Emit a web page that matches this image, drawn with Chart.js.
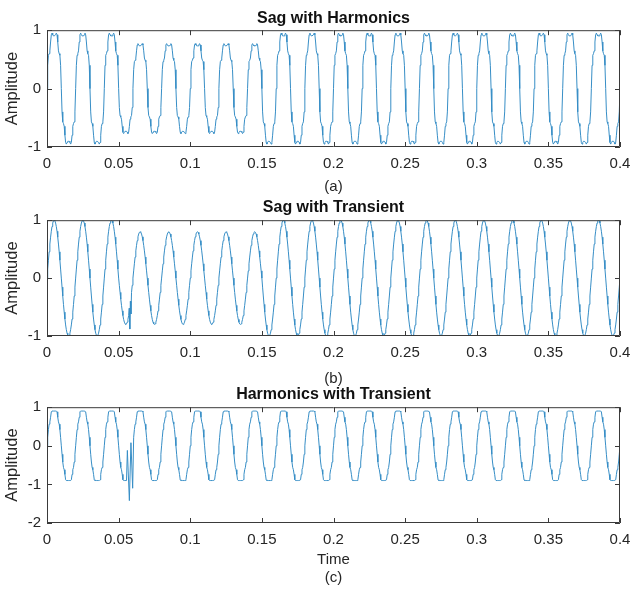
<!DOCTYPE html>
<html>
<head>
<meta charset="utf-8">
<script src="https://cdn.jsdelivr.net/npm/chart.js@4"></script>
<style>
  body { margin: 0; background: #fff; }
  #wrap { position: relative; width: 631px; height: 594px; }
  canvas { position: absolute; left: 0; }
</style>
</head>
<body>
<div id="wrap">
  <canvas id="graficoA" width="631" height="196" style="top:0px"></canvas>
  <canvas id="graficoB" width="631" height="192" style="top:196px"></canvas>
  <canvas id="graficoC" width="631" height="214" style="top:380px"></canvas>
</div>
<script>
// one half cycle (10 ms) of each waveform, sampled every 0.5 ms, peak = 1
const formaA = [0, 0.42, 0.6, 0.63, 0.68, 0.84, 0.97, 1.0, 0.97, 0.95, 0.95, 0.95, 0.97, 1.0, 0.97, 0.84, 0.68, 0.63, 0.6, 0.42];
const formaB = [0, 0.156, 0.309, 0.454, 0.588, 0.707, 0.809, 0.891, 0.951, 0.988, 1, 0.988, 0.951, 0.891, 0.809, 0.707, 0.588, 0.454, 0.309, 0.156];
const formaC = [0, 0.22, 0.42, 0.56, 0.62, 0.74, 0.88, 0.9, 0.9, 0.9, 0.9, 0.9, 0.9, 0.9, 0.88, 0.74, 0.62, 0.56, 0.42, 0.22];

// amplitude of each half cycle (40 half cycles over 0.4 s)
const amplitudeA = [0.95, 0.95, 0.95, 0.95, 0.95, 0.77, 0.77, 0.77, 0.77, 0.77,
                    0.77, 0.77, 0.77, 0.77, 0.77, 0.95, 0.95, 0.95, 0.95, 0.95,
                    0.95, 0.95, 0.95, 0.95, 0.95, 0.95, 0.95, 0.95, 0.95, 0.95,
                    0.95, 0.95, 0.95, 0.95, 0.95, 0.95, 0.95, 0.95, 0.95, 0.95];
const amplitudeB = [1, 1, 1, 1, 1, 0.8, 0.8, 0.8, 0.8, 0.8,
                    0.8, 0.8, 0.8, 0.8, 0.8, 1, 1, 1, 1, 1,
                    1, 1, 1, 1, 1, 1, 1, 1, 1, 1,
                    1, 1, 1, 1, 1, 1, 1, 1, 1, 1];
const amplitudeC = [1, 1, 1, 1, 1, 1, 1, 1, 1, 1,
                    1, 1, 1, 1, 1, 1, 1, 1, 1, 1,
                    1, 1, 1, 1, 1, 1, 1, 1, 1, 1,
                    1, 1, 1, 1, 1, 1, 1, 1, 1, 1];

// transients (time, value)
const transienteBTempo = [0.0574, 0.0578, 0.0582, 0.0586];
const transienteBValor = [-0.52, -0.88, -0.40, -0.62];
const transienteCTempo = [0.0561, 0.0575, 0.0586, 0.0598];
const transienteCValor = [-0.12, -1.42, 0.08, -1.1];

const xTicks = [0, 0.05, 0.1, 0.15, 0.2, 0.25, 0.3, 0.35, 0.4];
const yTicksAB = [-1, 0, 1];
const yTicksC = [-2, -1, 0, 1];

const passo = 0.0005;
const corLinha = 'rgb(55,142,198)';
const corEixo = '#262626';

Chart.defaults.font.family = "'Liberation Sans', Arial, sans-serif";
Chart.defaults.color = corEixo;

function montaSerie(forma, amplitude, tempos, valores) {
    let pontos = [];
    for (let i = 0; i < amplitude.length; i++) {
        const sinal = i % 2 === 0 ? 1 : -1;
        forma.forEach((v, k) => {
            pontos.push({x: (i * forma.length + k) * passo, y: sinal * amplitude[i] * v});
        });
    }
    pontos.push({x: amplitude.length * forma.length * passo, y: 0});
    if (tempos) {
        const ini = tempos[0] - 0.0003, fim = tempos[tempos.length - 1] + 0.0003;
        pontos = pontos.filter(p => p.x < ini || p.x > fim);
        tempos.forEach((t, j) => pontos.push({x: t, y: valores[j]}));
        pontos.sort((a, b) => a.x - b.x);
    }
    return pontos;
}

// box + inward ticks like matlab
const caixa = {
    id: 'caixa',
    afterDatasetsDraw(chart) {
        const {ctx, chartArea: a, scales} = chart;
        ctx.save();
        ctx.strokeStyle = '#3a3a3a';
        ctx.lineWidth = 1;
        ctx.beginPath();
        ctx.rect(a.left + 0.5, a.top + 0.5, a.right - a.left - 1, a.bottom - a.top - 1);
        scales.x.ticks.forEach(t => {
            const px = Math.round(scales.x.getPixelForValue(t.value)) + 0.5;
            ctx.moveTo(px, a.bottom); ctx.lineTo(px, a.bottom - 5);
            ctx.moveTo(px, a.top); ctx.lineTo(px, a.top + 5);
        });
        scales.y.ticks.forEach(t => {
            const py = Math.round(scales.y.getPixelForValue(t.value)) + 0.5;
            ctx.moveTo(a.left, py); ctx.lineTo(a.left + 5, py);
            ctx.moveTo(a.right, py); ctx.lineTo(a.right - 5, py);
        });
        ctx.stroke();
        ctx.restore();
    }
};

function criaGrafico(id, cfg) {
    return new Chart(document.getElementById(id), {
        type: 'line',
        data: {
            datasets: [{
                data: cfg.dados,
                borderColor: corLinha,
                borderWidth: 1,
                pointRadius: 0,
                tension: 0
            }]
        },
        options: {
            responsive: false,
            animation: false,
            parsing: false,
            layout: {padding: {left: 0, right: 11, top: 0, bottom: 0}},
            plugins: {
                legend: {display: false},
                tooltip: {enabled: false},
                title: {
                    display: true,
                    fullSize: false,
                    text: cfg.titulo,
                    font: {size: 16, weight: 'bold'},
                    color: '#111',
                    padding: cfg.tituloPad
                }
            },
            scales: {
                x: {
                    type: 'linear',
                    min: 0,
                    max: 0.4,
                    afterBuildTicks: s => { s.ticks = xTicks.map(v => ({value: v})); },
                    afterFit: s => {
                        s.height = cfg.alturaX;
                        s.paddingLeft = 0;
                        s.paddingRight = 0;
                    },
                    grid: {display: false, drawTicks: false},
                    border: {display: false},
                    ticks: {
                        font: {size: 15},
                        padding: 8,
                        maxRotation: 0,
                        autoSkip: false,
                        callback: v => String(+v.toFixed(2))
                    },
                    title: {
                        display: true,
                        text: cfg.tituloX,
                        font: {size: 15},
                        padding: {top: 0, bottom: cfg.padX}
                    }
                },
                y: {
                    min: cfg.yTicks[0],
                    max: cfg.yTicks[cfg.yTicks.length - 1],
                    afterBuildTicks: s => { s.ticks = cfg.yTicks.map(v => ({value: v})); },
                    afterFit: s => {
                        s.width = 47;
                        s.paddingTop = 0;
                        s.paddingBottom = 0;
                    },
                    grid: {display: false, drawTicks: false},
                    border: {display: false},
                    ticks: {font: {size: 15}, padding: 6},
                    title: {
                        display: true,
                        text: 'Amplitude',
                        font: {size: 16.5},
                        padding: {top: 3, bottom: 0}
                    }
                }
            }
        },
        plugins: [caixa]
    });
}

criaGrafico('graficoA', {
    dados: montaSerie(formaA, amplitudeA),
    titulo: 'Sag with Harmonics',
    tituloPad: {top: 9, bottom: 2},
    tituloX: '(a)',
    padX: 0,
    alturaX: 49,
    yTicks: yTicksAB
});

criaGrafico('graficoB', {
    dados: montaSerie(formaB, amplitudeB, transienteBTempo, transienteBValor),
    titulo: 'Sag with Transient',
    tituloPad: {top: 2, bottom: 3},
    tituloX: '(b)',
    padX: 0,
    alturaX: 52,
    yTicks: yTicksAB
});

criaGrafico('graficoC', {
    dados: montaSerie(formaC, amplitudeC, transienteCTempo, transienteCValor),
    titulo: 'Harmonics with Transient',
    tituloPad: {top: 5, bottom: 3},
    tituloX: ['Time', '(c)'],
    padX: 7,
    alturaX: 71,
    yTicks: yTicksC
});
</script>
</body>
</html>
